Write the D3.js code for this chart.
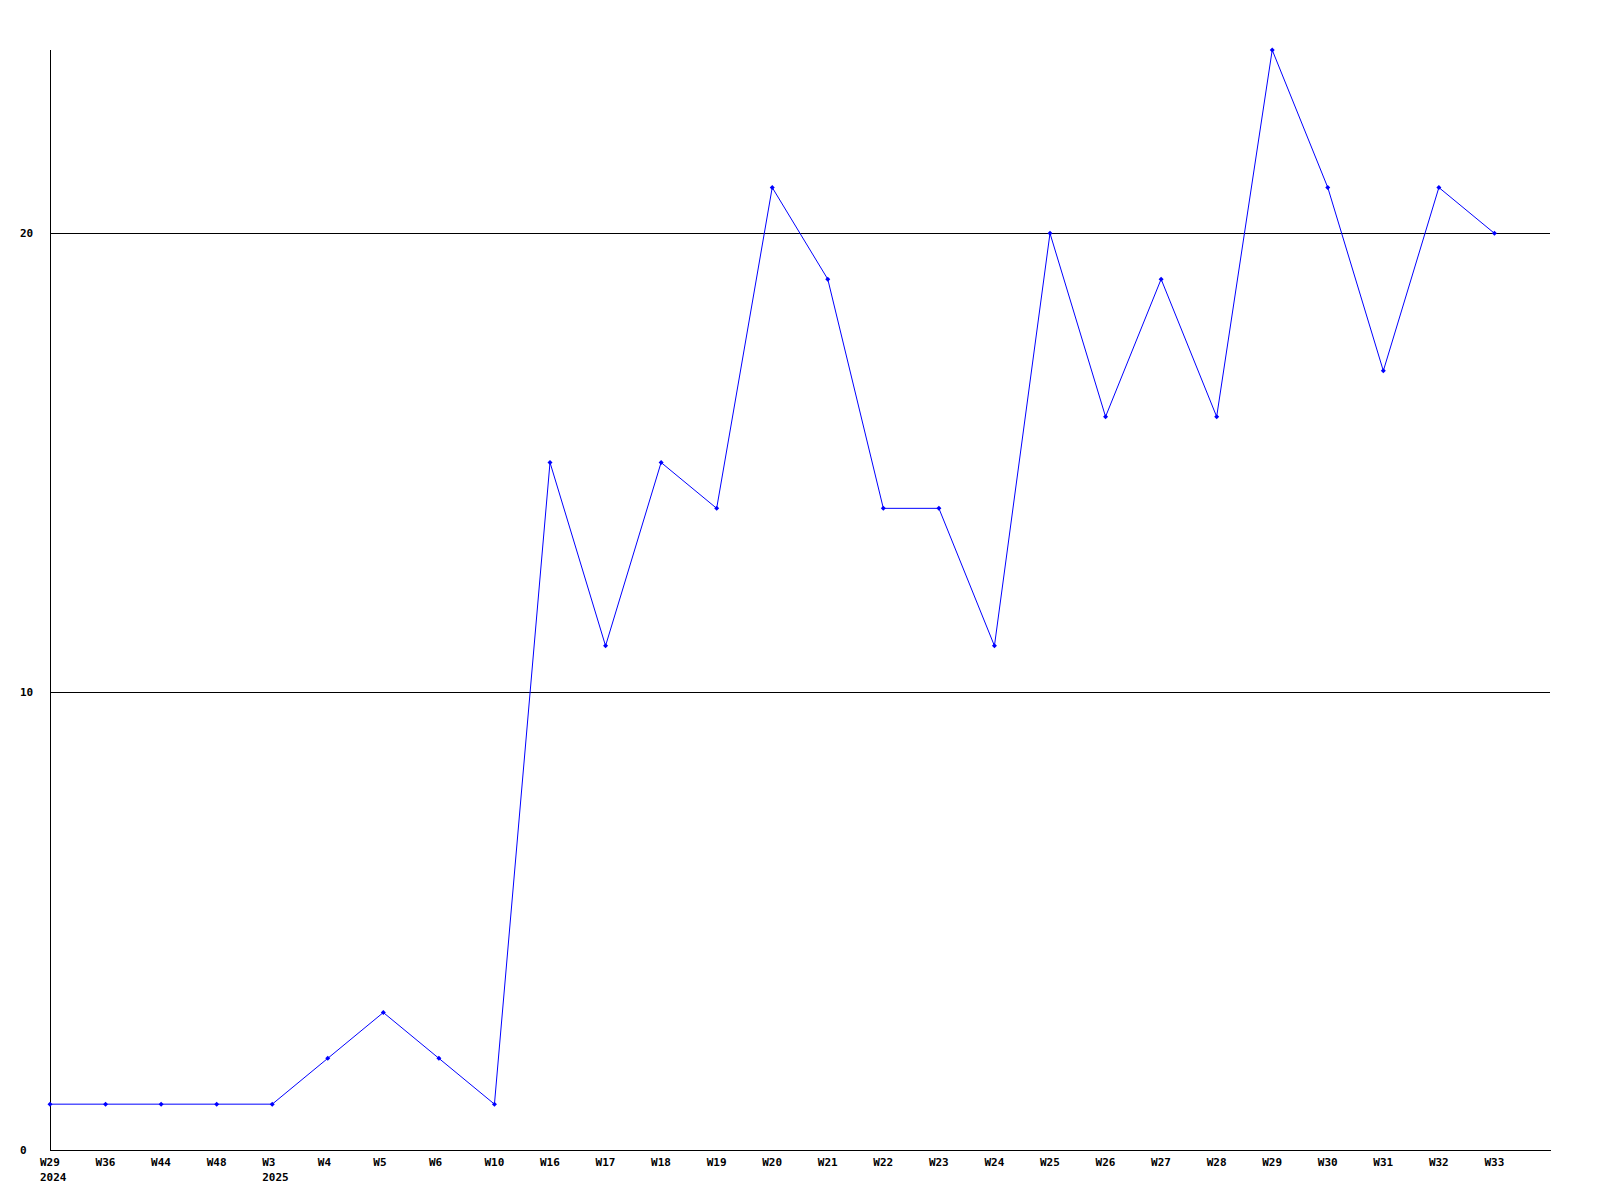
<!DOCTYPE html>
<html><head><meta charset="utf-8">
<script src="https://cdn.jsdelivr.net/npm/d3@7"></script>
<style>body{margin:0;background:#fff}</style>
</head><body>
<script>
const weeks = ["W29","W36","W44","W48","W3","W4","W5","W6","W10","W16","W17","W18","W19","W20","W21","W22","W23","W24","W25","W26","W27","W28","W29","W30","W31","W32","W33"];
const yearLabels = {0:"2024", 4:"2025"};
const values = [1,1,1,1,1,2,3,2,1,15,11,15,14,21,19,14,14,11,20,16,19,16,24,21,17,21,20];
const yTicks = [0,10,20];

(function(){
const W = 1600, H = 1200;
const pl = 50, pr = 1550, pt = 50, pb = 1150;
const svg = d3.select("body").append("svg").attr("width", W).attr("height", H);

const x = d3.scaleLinear().domain([0, weeks.length]).range([pl, pr]);
const y = d3.scaleLinear().domain([0, 24]).range([pb, pt]);

const font = "'DejaVu Sans Mono', 'Liberation Mono', monospace";

svg.append("g").selectAll("line").data(yTicks.filter(d => d > 0)).join("line")
  .attr("x1", pl).attr("x2", pr)
  .attr("y1", d => Math.round(y(d)) + 0.5).attr("y2", d => Math.round(y(d)) + 0.5)
  .attr("stroke", "#000").attr("stroke-width", 1);

svg.append("line").attr("x1", pl + 0.5).attr("x2", pl + 0.5).attr("y1", pt).attr("y2", pb)
  .attr("stroke", "#000");
svg.append("line").attr("x1", pl).attr("x2", pr + 1).attr("y1", pb + 0.5).attr("y2", pb + 0.5)
  .attr("stroke", "#000");

svg.append("g").selectAll("text").data(yTicks).join("text")
  .attr("x", 20).attr("y", d => y(d) + 4)
  .attr("font-family", font).attr("font-size", 11).attr("font-weight", "bold")
  .text(d => d);

const xl = svg.append("g");
xl.selectAll("text.w").data(weeks).join("text").attr("class","w")
  .attr("x", (d, i) => x(i) - 10).attr("y", 1166)
  .attr("font-family", font).attr("font-size", 11).attr("font-weight", "bold")
  .text(d => d);
xl.selectAll("text.yr").data(Object.entries(yearLabels)).join("text").attr("class","yr")
  .attr("x", d => x(+d[0]) - 10).attr("y", 1181)
  .attr("font-family", font).attr("font-size", 11).attr("font-weight", "bold")
  .text(d => d[1]);

const line = d3.line().x((d, i) => x(i)).y(d => y(d));
svg.append("path").datum(values).attr("d", line)
  .attr("fill", "none").attr("stroke", "#0000ff").attr("stroke-width", 1);

svg.append("g").selectAll("path").data(values).join("path")
  .attr("transform", (d, i) => `translate(${x(i)},${y(d)})`)
  .attr("d", "M-2.5,0L0,-2.5L2.5,0L0,2.5Z")
  .attr("fill", "#0000ff");
})();
</script>
</body></html>
